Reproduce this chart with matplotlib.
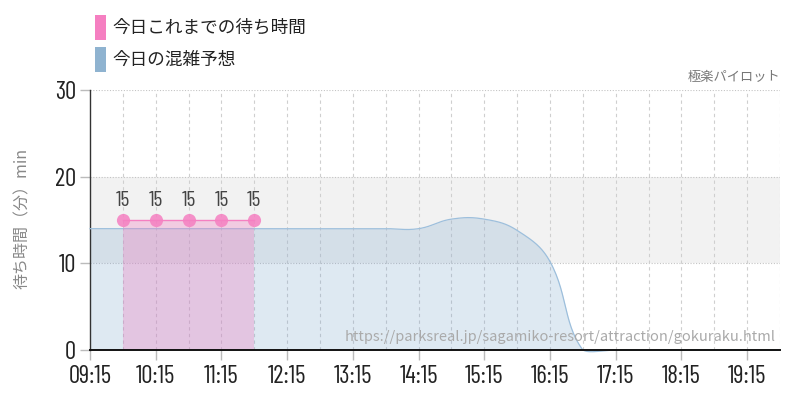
import numpy as np
import matplotlib
matplotlib.use("Agg")
import matplotlib.pyplot as plt
from matplotlib.patches import Rectangle

# ---------------- data ----------------
tick_labels = ["09:15", "10:15", "11:15", "12:15", "13:15", "14:15",
               "15:15", "16:15", "17:15", "18:15", "19:15"]
actual_times = ["09:45", "10:15", "10:45", "11:15", "11:45"]
actual_values = [15, 15, 15, 15, 15]
forecast_times = ["09:15", "09:45", "10:15", "10:45", "11:15", "11:45",
                  "12:15", "12:45", "13:15", "13:45", "14:15", "14:45",
                  "15:15", "15:45", "16:15", "16:45", "17:15", "17:45",
                  "18:15", "18:45", "19:15", "19:45"]
forecast_values = [14, 14, 14, 14, 14, 14, 14, 14, 14, 14, 14, 15.1,
                   15.1, 13.8, 10.2, 0, 0, 0, 0, 0, 0, 0]
legend_labels = ["今日これまでの待ち時間", "今日の混雑予想"]
y_label = "待ち時間（分）min"
credit = "極楽パイロット"
url = "https://parksreal.jp/sagamiko-resort/attraction/gokuraku.html"


def to_h(s):
    h, m = s.split(":")
    return int(h) + int(m) / 60.0


JP = ["Noto Sans CJK JP", "DejaVu Sans"]
NUM = ["Barlow Condensed", "Roboto Condensed", "DejaVu Sans"]

PINK = "#f57fc1"
BLUE = "#74a0cb"

fig = plt.figure(figsize=(8, 4), dpi=100)
ax = fig.add_axes([90 / 800, 50 / 400, 690 / 800, 260 / 400])
xmin, xmax = to_h("09:15"), to_h("19:45")
ax.set_xlim(xmin, xmax)
ax.set_ylim(0, 30)

# band 10-20
ax.axhspan(10, 20, color="#f2f2f2", zorder=0, lw=0)
for yv in (10, 20, 30):
    ax.axhline(yv, color="#c4c4c4", lw=0.8, ls=(0, (1, 1.5)), zorder=1)
# vertical grid every 30 min
for t in forecast_times[1:]:
    ax.axvline(to_h(t), color="#cfcfcf", lw=0.8, ls=(0, (3, 3)), zorder=1)

# smooth forecast curve (bezier in pixel space)
fx = np.array([to_h(t) for t in forecast_times])
fy = np.array(forecast_values, dtype=float)
sx, sy = 65.6, 8.67
P = np.column_stack([fx * sx, fy * sy])
n = len(P)
tension = 0.4
cp_prev = P.copy()
cp_next = P.copy()
for i in range(1, n - 1):
    d01 = np.hypot(*(P[i] - P[i - 1]))
    d12 = np.hypot(*(P[i + 1] - P[i]))
    tot = d01 + d12
    fa = tension * d01 / tot
    fb = tension * d12 / tot
    v = P[i + 1] - P[i - 1]
    cp_prev[i] = P[i] - fa * v
    cp_next[i] = P[i] + fb * v
floor = -0.45 * sy
cp_prev[:, 1] = np.maximum(cp_prev[:, 1], floor)
cp_next[:, 1] = np.maximum(cp_next[:, 1], floor)
curve = []
tt = np.linspace(0, 1, 30)[:, None]
for i in range(n - 1):
    b = ((1 - tt) ** 3 * P[i] + 3 * (1 - tt) ** 2 * tt * cp_next[i]
         + 3 * (1 - tt) * tt ** 2 * cp_prev[i + 1] + tt ** 3 * P[i + 1])
    curve.append(b if i == 0 else b[1:])
curve = np.vstack(curve)
cx, cy = curve[:, 0] / sx, curve[:, 1] / sy
ax.fill_between(cx, cy, 0, color=BLUE, alpha=0.23, lw=0, zorder=2)
ax.plot(cx, cy, color="#9dbfdc", lw=0.9, zorder=3, clip_on=False)

# actual wait times
ax_ = np.array([to_h(t) for t in actual_times])
ay = np.array(actual_values, dtype=float)
ax.fill_between(ax_, ay, 0, color="#f07cc0", alpha=0.33, lw=0, zorder=4)
ax.plot(ax_, ay, color=PINK, lw=1.0, zorder=5)
ax.scatter(ax_, ay, s=90, color=PINK, alpha=0.85, lw=0, zorder=6)
for x, y in zip(ax_, ay):
    ax.text(x, y + 1.1, f"{y:g}", ha="center", va="bottom", fontsize=15.5,
            family=NUM, color="#444444", zorder=7)

# axes styling
for s in ("top", "right"):
    ax.spines[s].set_visible(False)
ax.spines["left"].set_color("#333333")
ax.spines["left"].set_linewidth(1.0)
ax.spines["bottom"].set_color("#111111")
ax.spines["bottom"].set_linewidth(1.4)
ax.spines["bottom"].set_zorder(8)

ax.set_yticks([0, 10, 20, 30])
ax.set_yticklabels(["0", "10", "20", "30"], family=NUM,
                   fontsize=18, color="#222222")
ax.set_xticks([to_h(t) for t in tick_labels])
ax.set_xticklabels(tick_labels, family=NUM,
                   fontsize=18, color="#222222")
ax.tick_params(axis="both", length=7, width=1, color="#bbbbbb", pad=3)
ax.tick_params(axis="x", pad=4)

fig.text(22 / 800, 1 - 218 / 400, y_label, rotation=90, ha="center", va="center",
         fontsize=11.5, family=JP, color="#888888")

# legend
cols = [PINK, "#8fb3d0"]
for i, (lab, c) in enumerate(zip(legend_labels, cols)):
    top = 15 + i * 32
    fig.patches.append(Rectangle((95 / 800, 1 - (top + 25) / 400), 11 / 800, 25 / 400,
                                 transform=fig.transFigure, color=c, lw=0))
    fig.text(112 / 800, 1 - (top + 13) / 400, lab, ha="left", va="center",
             fontsize=12.7, family=JP, color="#222222")

fig.text(780 / 800, 1 - 77 / 400, credit, ha="right", va="center",
         fontsize=9.5, family=JP, color="#777777")
fig.text(776 / 800, 1 - 337 / 400, url, ha="right", va="center",
         fontsize=10.5, family=JP, color="#aaaaaa", zorder=10)

fig.savefig("out.png", dpi=100)
